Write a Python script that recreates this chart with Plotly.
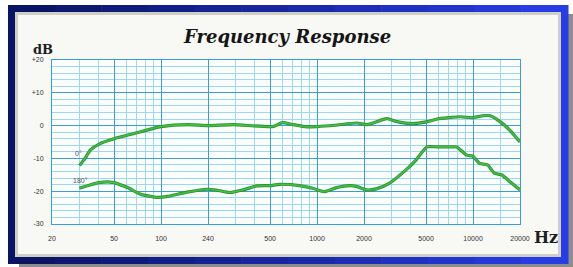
import plotly.graph_objects as go

W, H = 573, 267

# ---- data ----
freq_0 = [30, 32.6, 35.2, 40.6, 50, 66, 100, 150, 200, 290, 520, 600, 700, 860, 1000, 1300,
          1800, 2100, 2800, 3200, 4100, 5100, 5900, 8300, 9800, 11600, 12900,
          14900, 17300, 20000]
db_0 = [-12.2, -10.0, -7.5, -5.5, -4.0, -2.5, -0.3, 0.3, 0.0, 0.3, -0.3, 0.9, 0.3, -0.4,
        -0.3, 0.1, 0.8, 0.3, 2.1, 1.3, 0.6, 1.2, 2.0, 2.7, 2.4, 3.0, 3.0, 1.2,
        -1.5, -5.0]

freq_180 = [30, 35, 41, 49, 61, 74, 95, 110, 147, 197, 228, 276, 335, 410, 498,
            576, 772, 937, 1118, 1334, 1612, 1812, 2066, 2394, 2902, 3717, 4306,
            5070, 5877, 7411, 7863, 9100, 9947, 11000, 12370, 13700, 15210,
            17260, 20000]
db_180 = [-19.1, -18.1, -17.3, -17.3, -18.9, -20.9, -21.9, -21.6, -20.3, -19.4,
          -19.7, -20.4, -19.6, -18.4, -18.3, -17.9, -18.3, -19.1, -20.1, -18.9,
          -18.3, -18.6, -19.6, -19.3, -17.6, -13.5, -10.5, -6.5, -6.5, -6.5,
          -6.5, -9.0, -9.3, -11.5, -12.0, -14.5, -15.0, -17.1, -19.6]

x_tickvals = [20, 50, 100, 200, 500, 1000, 2000, 5000, 10000, 20000]
x_ticktext = ["20", "50", "100", "240", "500", "1000", "2000", "5000", "10000", "20000"]
x_minor = [30, 40, 60, 70, 80, 90, 300, 400, 600, 700, 800, 900,
           3000, 4000, 6000, 7000, 8000, 9000, 15000]
y_tickvals = [20, 10, 0, -10, -20, -30]
y_ticktext = ["+20", "+10", "0", "-10", "-20", "-30"]


def px(x):
    return x / W


def py(y):
    return 1 - y / H


fig = go.Figure()
for f, d in [(freq_0, db_0), (freq_180, db_180)]:
    fig.add_trace(go.Scatter(x=f, y=d, mode="lines",
                             line=dict(color="#2a8f2a", width=3.2, shape="spline", smoothing=0.6),
                             hoverinfo="skip", showlegend=False))
    fig.add_trace(go.Scatter(x=f, y=d, mode="lines",
                             line=dict(color="#45be45", width=1.6, shape="spline", smoothing=0.6),
                             showlegend=False))

shapes = []
# shadow
shapes.append(dict(type="rect", xref="paper", yref="paper", x0=px(19), x1=px(573),
                   y0=py(267), y1=py(14), fillcolor="#8c8c8c", line_width=0, layer="below"))
# gradient border (slices)
n = 12
c0 = (10, 20, 100)
c1 = (40, 60, 230)
for i in range(n):
    xa = 8 + (568 - 8) * i / n
    xb = 8 + (568 - 8) * (i + 1) / n + 0.5
    t = i / (n - 1)
    c = tuple(int(c0[k] + (c1[k] - c0[k]) * t) for k in range(3))
    shapes.append(dict(type="rect", xref="paper", yref="paper", x0=px(xa), x1=px(xb),
                       y0=py(264), y1=py(5), fillcolor="rgb(%d,%d,%d)" % c,
                       line_width=0, layer="below"))
# inner bevel
shapes.append(dict(type="rect", xref="paper", yref="paper", x0=px(15), x1=px(561),
                   y0=py(257), y1=py(12), fillcolor="#cfcfc6", line_width=0, layer="below"))
shapes.append(dict(type="rect", xref="paper", yref="paper", x0=px(18), x1=px(558),
                   y0=py(254), y1=py(15), fillcolor="#f8f8f4", line_width=0, layer="below"))
# plot background
shapes.append(dict(type="rect", xref="paper", yref="paper", x0=px(52), x1=px(520),
                   y0=py(224), y1=py(60), fillcolor="#fbfeff", line_width=0, layer="below"))


def ann(text, x, y, family, size, color):
    return dict(text=text, x=px(x), y=py(y), xref="paper", yref="paper",
                xanchor="center", yanchor="middle", showarrow=False,
                font=dict(family=family, size=size, color=color))


annotations = [
    ann("<b><i>Frequency Response</i></b>", 287, 36, "DejaVu Serif", 18, "#151515"),
    ann("<b>dB</b>", 43, 49, "DejaVu Serif", 13, "#1e1e1e"),
    ann("<b>Hz</b>", 546, 237, "DejaVu Serif", 16, "#1e1e1e"),
    ann("0°", 78, 153, "Liberation Sans", 7, "#555"),
    ann("180°", 80, 180, "Liberation Sans", 7, "#555"),
]

fig.update_layout(
    width=W, height=H,
    margin=dict(l=0, r=0, t=0, b=0),
    paper_bgcolor="#ffffff",
    plot_bgcolor="rgba(0,0,0,0)",
    shapes=shapes,
    annotations=annotations,
    xaxis=dict(type="log", range=[1.30103, 4.30103], domain=[px(52), px(520)],
               tickmode="array", tickvals=x_tickvals, ticktext=x_ticktext,
               showgrid=True, gridcolor="#3d9bd6", gridwidth=1.2,
               minor=dict(tickmode="array", tickvals=x_minor, showgrid=True,
                          gridcolor="#9fd8ee", gridwidth=1, ticks=""),
               ticks="", ticklabelstandoff=8,
               tickfont=dict(family="Liberation Sans", size=7, color="#333"),
               showline=True, linecolor="#3d9bd6", linewidth=1, mirror=True,
               zeroline=False, fixedrange=True, automargin=False),
    yaxis=dict(range=[-30, 20], domain=[py(224), py(60)],
               tickmode="array", tickvals=y_tickvals, ticktext=y_ticktext,
               showgrid=True, gridcolor="#3d9bd6", gridwidth=1.2,
               minor=dict(dtick=2, showgrid=True, gridcolor="#9fd8ee", gridwidth=1, ticks=""),
               ticks="", ticklabelstandoff=6,
               tickfont=dict(family="Liberation Sans", size=7, color="#333"),
               showline=True, linecolor="#3d9bd6", linewidth=1, mirror=True,
               zeroline=False, fixedrange=True, automargin=False),
)

fig.write_html("out.html", config={"displayModeBar": False},
               post_script="document.body.style.margin='0';document.body.style.overflow='hidden';")
